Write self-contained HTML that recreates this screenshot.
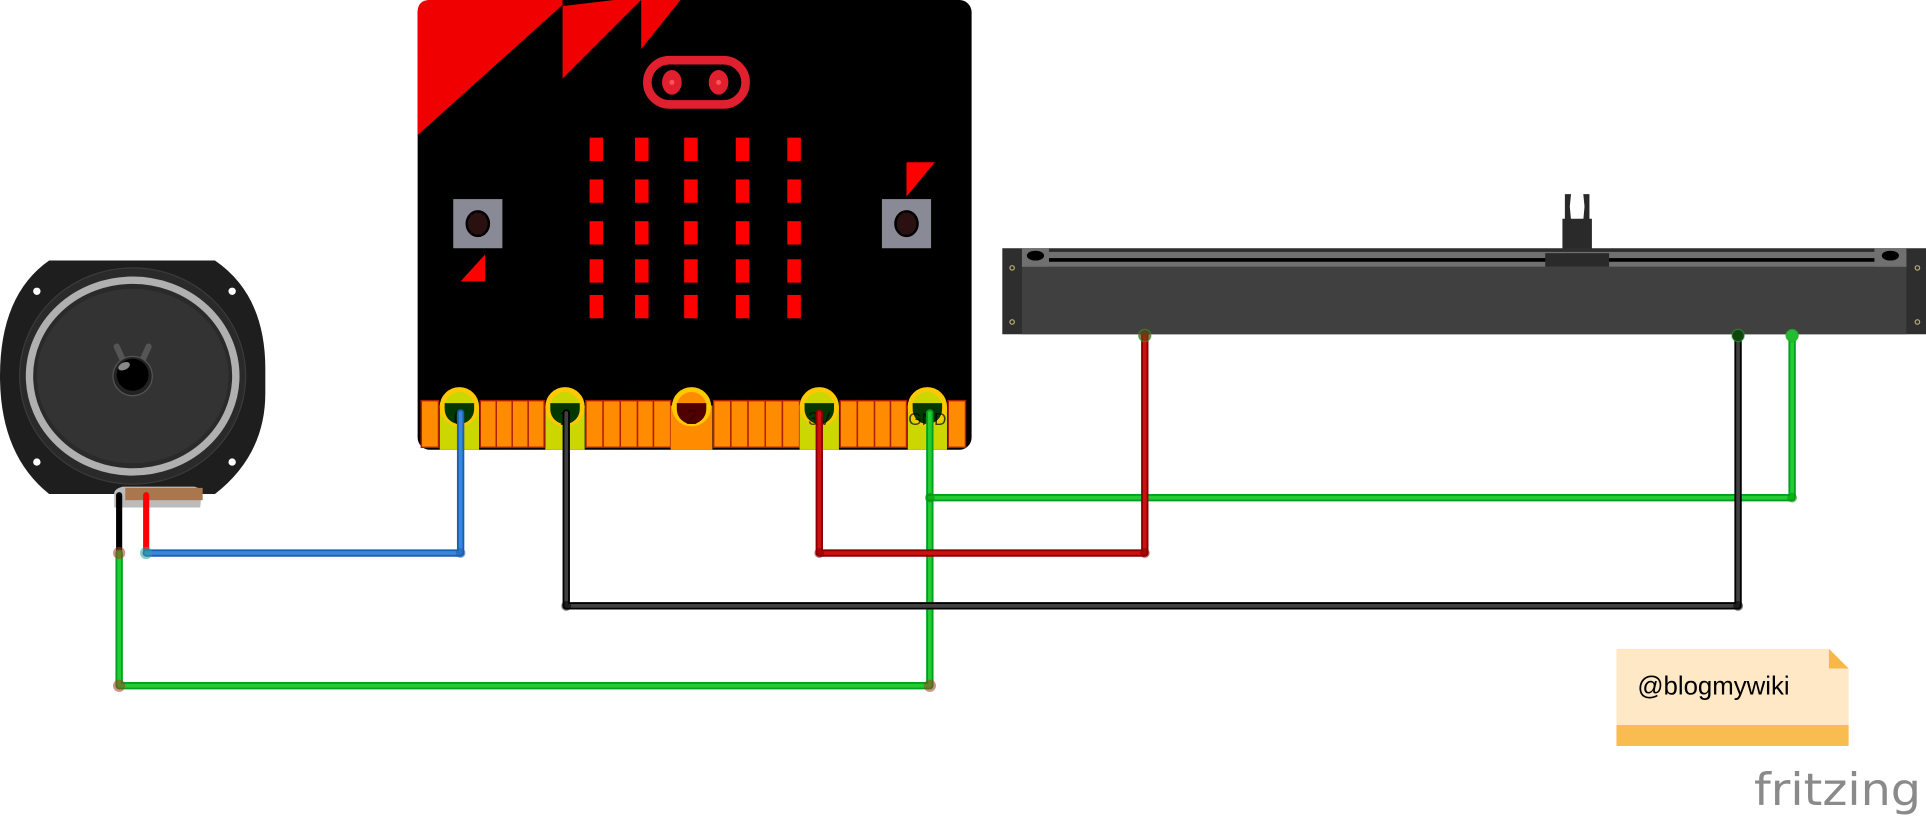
<!DOCTYPE html>
<html><head><meta charset="utf-8"><style>
html,body{margin:0;padding:0;background:#fff;width:1926px;height:816px;overflow:hidden}
svg{display:block}
</style></head><body>
<svg width="1926" height="816" viewBox="0 0 1568 664" preserveAspectRatio="none" xmlns="http://www.w3.org/2000/svg">
<!-- micro:bit -->
<rect x="340" y="0" width="451" height="366" rx="10" fill="#000"/>
<path d="M340 10 Q340 0 350 0 L458 0 L458 4 L340 110 Z" fill="#f00000"/>
<path d="M458 5 L458 64 L522 0 L500 0 Z" fill="#f00000"/>
<path d="M522 0 L522 40 L554 0 Z" fill="#f00000"/>
<rect x="527" y="49" width="80" height="36" rx="18" fill="none" stroke="#e0202e" stroke-width="7"/>
<ellipse cx="547" cy="67" rx="8" ry="10" fill="#e0202e"/>
<ellipse cx="585" cy="67" rx="8" ry="10" fill="#e0202e"/>
<circle cx="547" cy="67" r="2" fill="#f55"/><circle cx="585" cy="67" r="2" fill="#f55"/>
<g fill="#ff0000">
<rect x="480" y="112" width="11" height="19"/><rect x="517" y="112" width="11" height="19"/><rect x="557" y="112" width="11" height="19"/><rect x="599" y="112" width="11" height="19"/><rect x="641" y="112" width="11" height="19"/>
<rect x="480" y="146" width="11" height="19"/><rect x="517" y="146" width="11" height="19"/><rect x="557" y="146" width="11" height="19"/><rect x="599" y="146" width="11" height="19"/><rect x="641" y="146" width="11" height="19"/>
<rect x="480" y="180" width="11" height="19"/><rect x="517" y="180" width="11" height="19"/><rect x="557" y="180" width="11" height="19"/><rect x="599" y="180" width="11" height="19"/><rect x="641" y="180" width="11" height="19"/>
<rect x="480" y="211" width="11" height="19"/><rect x="517" y="211" width="11" height="19"/><rect x="557" y="211" width="11" height="19"/><rect x="599" y="211" width="11" height="19"/><rect x="641" y="211" width="11" height="19"/>
<rect x="480" y="240" width="11" height="19"/><rect x="517" y="240" width="11" height="19"/><rect x="557" y="240" width="11" height="19"/><rect x="599" y="240" width="11" height="19"/><rect x="641" y="240" width="11" height="19"/>
<path d="M375 229 L395 207 L395 229 Z"/>
<path d="M738 160 L738 132 L761 132 Z"/>
</g>
<rect x="369" y="162" width="40" height="40" fill="#8a8a96"/>
<ellipse cx="389" cy="182" rx="9" ry="10" fill="#2a1010" stroke="#000" stroke-width="2"/>
<rect x="718" y="162" width="40" height="40" fill="#8a8a96"/>
<ellipse cx="738" cy="182" rx="9" ry="10" fill="#2a1010" stroke="#000" stroke-width="2"/>
<!-- edge strips -->
<g fill="#ff8c00" stroke="#b02000" stroke-width="1.2">
<rect x="343" y="326" width="14" height="38"/>
<rect x="391" y="326" width="13" height="38"/><rect x="404" y="326" width="13" height="38"/><rect x="417" y="326" width="13" height="38"/><rect x="430" y="326" width="13" height="38"/>
<rect x="477" y="326" width="14" height="38"/><rect x="491" y="326" width="14" height="38"/><rect x="505" y="326" width="14" height="38"/><rect x="519" y="326" width="13" height="38"/><rect x="532" y="326" width="14" height="38"/>
<rect x="581" y="326" width="14" height="38"/><rect x="595" y="326" width="14" height="38"/><rect x="609" y="326" width="14" height="38"/><rect x="623" y="326" width="14" height="38"/><rect x="637" y="326" width="14" height="38"/>
<rect x="684" y="326" width="14" height="38"/><rect x="698" y="326" width="14" height="38"/><rect x="712" y="326" width="13" height="38"/><rect x="725" y="326" width="13" height="38"/>
<rect x="772" y="326" width="14" height="38"/>
</g>
<!-- pads -->
<g>
<rect x="358" y="330" width="32" height="36" fill="#ccd600"/><circle cx="374" cy="331" r="14" fill="#ccd600" stroke="#ffc800" stroke-width="4"/><path d="M362 333 A12 12 0 0 0 386 333 L386 328 L362 328 Z" fill="#003800"/>
<rect x="444" y="330" width="32" height="36" fill="#ccd600"/><circle cx="460" cy="331" r="14" fill="#ccd600" stroke="#ffc800" stroke-width="4"/><path d="M448 333 A12 12 0 0 0 472 333 L472 328 L448 328 Z" fill="#003800"/>
<rect x="546" y="330" width="34" height="36" fill="#ff8c00"/><circle cx="563" cy="331" r="14" fill="#ff8c00" stroke="#ffc800" stroke-width="4"/><path d="M551 333 A12 12 0 0 0 575 333 L575 328 L551 328 Z" fill="#500000"/>
<rect x="651" y="330" width="32" height="36" fill="#ccd600"/><circle cx="667" cy="331" r="14" fill="#ccd600" stroke="#ffc800" stroke-width="4"/><path d="M655 333 A12 12 0 0 0 679 333 L679 328 L655 328 Z" fill="#003800"/>
<rect x="739" y="330" width="32" height="36" fill="#ccd600"/><circle cx="755" cy="331" r="14" fill="#ccd600" stroke="#ffc800" stroke-width="4"/><path d="M743 333 A12 12 0 0 0 767 333 L767 328 L743 328 Z" fill="#003800"/>
</g>
<g fill="#000" fill-opacity="0.7" font-family="Liberation Sans, sans-serif" font-size="17">
<text x="374" y="346" text-anchor="middle">0</text>
<text x="460" y="346" text-anchor="middle">1</text>
<text x="563" y="345" text-anchor="middle" fill-opacity="0.75" fill="#300">2</text>
<text x="667" y="346" text-anchor="middle" font-size="15">3V</text>
<text x="755" y="346" text-anchor="middle" font-size="14">GND</text>
</g>
<!-- speaker -->
<path d="M40 212 L175 212 Q216 240 216 300 L216 320 Q216 370 175 402 L40 402 Q0 370 0 306 Q0 240 40 212 Z" fill="#1e1e1e"/>
<ellipse cx="108" cy="306" rx="92" ry="88" fill="#2a2a2a" stroke="#3a3a3a"/>
<ellipse cx="108" cy="306" rx="84" ry="78" fill="none" stroke="#b0b0b0" stroke-width="6"/>
<ellipse cx="108" cy="306" rx="78" ry="71" fill="#333"/>
<circle cx="30" cy="237" r="3" fill="#fff"/><circle cx="189" cy="237" r="3" fill="#fff"/><circle cx="30" cy="376" r="3" fill="#fff"/><circle cx="189" cy="376" r="3" fill="#fff"/>
<path d="M95 282 L100 293 M121 282 L116 293" stroke="#555" stroke-width="5" stroke-linecap="round"/>
<circle cx="108" cy="306" r="16" fill="#222" stroke="#555"/>
<circle cx="108" cy="305" r="13" fill="#000"/>
<ellipse cx="101" cy="298" rx="5" ry="3" fill="#888" transform="rotate(-25 101 298)"/>
<path d="M93 403 Q92 398 100 396 L158 396 Q166 398 164 403 L163 413 L93 413 Z" fill="#bbb"/>
<rect x="102" y="397" width="63" height="10" fill="#a8774d"/>
<!-- wires -->
<g fill="none" stroke-linejoin="round" stroke-linecap="round">
<path d="M97 403 L97 450" stroke="#000" stroke-width="5"/>
<path d="M119 403 L119 450" stroke="#ff0000" stroke-width="5"/>
<path d="M97 450 L97 558 L757 558 L757 336" stroke="#00a020" stroke-width="6"/>
<path d="M97 450 L97 558 L757 558 L757 336" stroke="#22cc33" stroke-width="3"/>
<path d="M757 405 L1459 405 L1459 272" stroke="#00a020" stroke-width="6"/>
<path d="M757 405 L1459 405 L1459 272" stroke="#22cc33" stroke-width="3"/>
<path d="M375 336 L375 450 L119 450" stroke="#1a5fb0" stroke-width="6"/>
<path d="M375 336 L375 450 L119 450" stroke="#3a86d8" stroke-width="3"/>
<path d="M461 336 L461 493 L1415 493 L1415 272" stroke="#000" stroke-width="6"/>
<path d="M461 336 L461 493 L1415 493 L1415 272" stroke="#404040" stroke-width="3"/>
<path d="M667 336 L667 450 L932 450 L932 272" stroke="#8a0000" stroke-width="6"/>
<path d="M667 336 L667 450 L932 450 L932 272" stroke="#cc1111" stroke-width="3"/>
</g>
<g fill-opacity="0.55">
<circle cx="97" cy="450" r="5" fill="#a04020"/><circle cx="119" cy="450" r="5" fill="#30a0a0"/>
<circle cx="97" cy="558" r="5" fill="#a04020"/><circle cx="757" cy="558" r="5" fill="#a04020"/>
<circle cx="375" cy="450" r="4" fill="#1a5fb0"/><circle cx="667" cy="450" r="4" fill="#800"/><circle cx="932" cy="450" r="4" fill="#800"/>
<circle cx="461" cy="493" r="4" fill="#000"/><circle cx="1415" cy="493" r="4" fill="#000"/>
<circle cx="757" cy="405" r="4" fill="#090"/><circle cx="1459" cy="405" r="4" fill="#090"/>
</g>
<!-- slider -->
<rect x="1272" y="178" width="24" height="30" fill="#2a2a2a"/>
<path d="M1274 158 L1279 158 L1278 168 L1280 190 L1288 190 L1290 168 L1289 158 L1294 158 L1294 180 L1274 180 Z" fill="#2a2a2a"/>
<rect x="816" y="202" width="752" height="70" fill="#2e2e2e"/>
<rect x="832" y="205" width="720" height="67" fill="#404040"/>
<rect x="832" y="205" width="720" height="12" fill="#707070"/>
<rect x="853" y="210" width="683" height="3" fill="#000"/>
<rect x="1258" y="206" width="52" height="11" fill="#2a2a2a"/>
<rect x="832" y="202" width="22" height="15" fill="#707070"/><ellipse cx="843" cy="208" rx="7" ry="4" fill="#000"/>
<rect x="1526" y="202" width="26" height="15" fill="#707070"/><ellipse cx="1539" cy="208" rx="7" ry="4" fill="#000"/>
<circle cx="824" cy="218" r="1.8" fill="none" stroke="#b8a878"/><circle cx="824" cy="262" r="1.8" fill="none" stroke="#b8a878"/>
<circle cx="1561" cy="218" r="1.8" fill="none" stroke="#b8a878"/><circle cx="1561" cy="262" r="1.8" fill="none" stroke="#b8a878"/>
<circle cx="932" cy="273" r="5" fill="#6a4010" fill-opacity="0.7" stroke="#22aa22" stroke-opacity="0.6"/>
<circle cx="1415" cy="273" r="5" fill="#114411" stroke="#22aa22" stroke-opacity="0.6"/>
<circle cx="1459" cy="273" r="5" fill="#22bb33" stroke="#22aa22" stroke-opacity="0.6"/>
<!-- note -->
<path d="M1316 528 L1489 528 L1505 544 L1505 607 L1316 607 Z" fill="#ffe8c6"/>
<path d="M1489 528 L1505 544 L1489 544 Z" fill="#f8b848"/>
<rect x="1316" y="590" width="189" height="17" fill="#f8bc50"/>
<text x="1333" y="565" font-family="Liberation Sans, sans-serif" font-size="21" fill="#000">@blogmywiki</text>
<!-- fritzing -->
<text x="1428" y="655" font-family="DejaVu Sans, Liberation Sans, sans-serif" font-size="36" fill="#8a8a8a" textLength="136" lengthAdjust="spacingAndGlyphs">fritzing</text>
</svg>
</body></html>
